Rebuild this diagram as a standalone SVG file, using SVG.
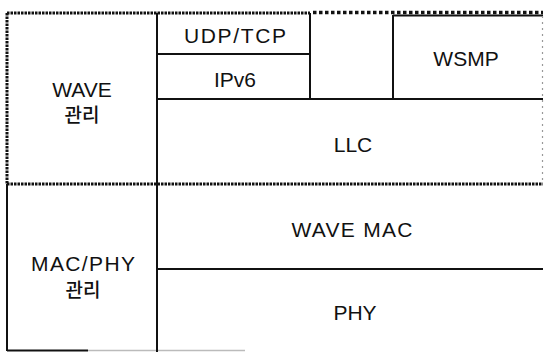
<svg xmlns="http://www.w3.org/2000/svg" width="544" height="352" viewBox="0 0 544 352">
<style>
.t{font-family:"Liberation Sans","Noto Sans CJK KR",Arial,sans-serif;font-size:21px;fill:#111;text-anchor:middle}
.k{font-family:"Noto Sans CJK KR","Liberation Sans",sans-serif;font-size:19px;font-weight:500;fill:#111;text-anchor:middle}
.s{stroke:#111;stroke-width:2;fill:none}
.hd{stroke:#111;stroke-width:3;stroke-dasharray:2.5 1;fill:none}
.dt{stroke:#111;stroke-width:3.5;stroke-dasharray:3.5 2.5;fill:none}
.fd{stroke:#999;stroke-width:1.2;stroke-dasharray:2 4;fill:none}
</style>
<rect width="544" height="352" fill="#fff"/>
<g id="connectors">
<line class="hd" x1="7" y1="13" x2="310" y2="13"/>
<line class="dt" x1="313" y1="12.5" x2="543" y2="12.5"/>
<line class="s" x1="393" y1="15.5" x2="543" y2="15.5"/>
<line class="hd" x1="7" y1="13" x2="7" y2="184"/>
<line class="hd" x1="7" y1="184" x2="543" y2="184"/>
<line class="fd" x1="542.5" y1="16" x2="542.5" y2="184"/>
<line class="s" x1="7" y1="184" x2="7" y2="351"/>
<line class="s" x1="7" y1="350.5" x2="88" y2="350.5"/>
<line stroke="#bbb" stroke-width="1.5" x1="88" y1="350.5" x2="245" y2="350.5"/>
<line class="s" x1="157" y1="13" x2="157" y2="352"/>
<line class="s" x1="310" y1="13" x2="310" y2="99"/>
<line class="s" x1="393" y1="15" x2="393" y2="99"/>
<line class="s" x1="157" y1="54" x2="310" y2="54"/>
<line class="s" x1="157" y1="99" x2="543" y2="99"/>
<line class="s" x1="157" y1="269" x2="543" y2="269"/>
</g>
<g id="wave-mgmt"><text class="t" x="82" y="97">WAVE</text><text class="k" x="82" y="122">관리</text></g>
<g id="macphy-mgmt"><text class="t" x="83" y="271" textLength="104" lengthAdjust="spacing">MAC/PHY</text><text class="k" x="83" y="297">관리</text></g>
<g id="udptcp"><text class="t" x="235" y="43" textLength="102" lengthAdjust="spacing">UDP/TCP</text></g>
<g id="ipv6"><text class="t" x="235" y="87">IPv6</text></g>
<g id="wsmp"><text class="t" x="466" y="66">WSMP</text></g>
<g id="llc"><text class="t" x="353" y="152">LLC</text></g>
<g id="wavemac"><text class="t" x="352" y="237" textLength="121" lengthAdjust="spacing">WAVE MAC</text></g>
<g id="phy"><text class="t" x="355" y="320">PHY</text></g>
</svg>
